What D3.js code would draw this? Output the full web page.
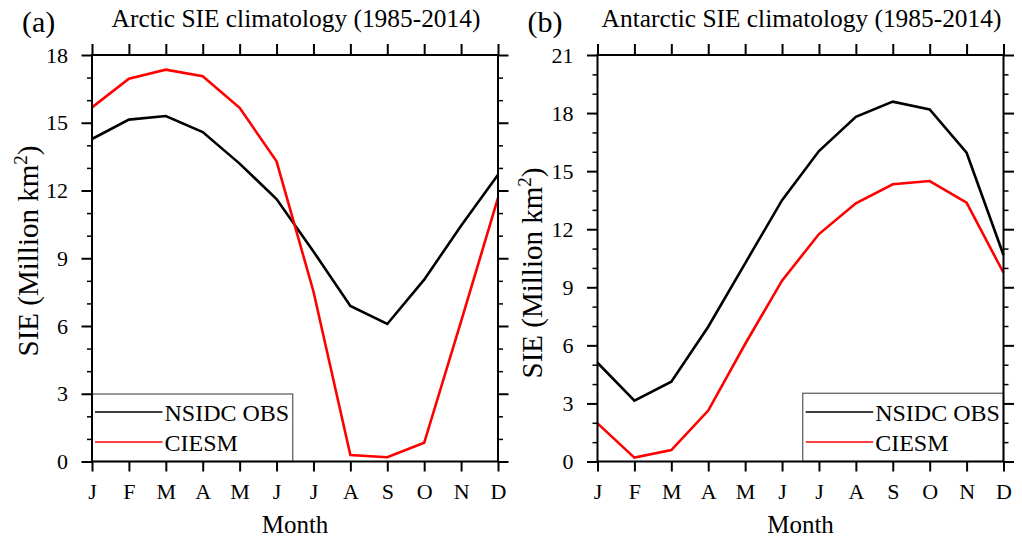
<!DOCTYPE html>
<html>
<head>
<meta charset="utf-8">
<script src="https://cdn.jsdelivr.net/npm/d3@7"></script>
<style>
  html, body { margin: 0; padding: 0; background: #fff; }
  svg { display: block; }
  svg text { font-family: "Liberation Serif", "Times New Roman", serif; fill: #000; }
</style>
</head>
<body>
<svg id="chart" width="1022" height="539"></svg>
<script>
// Monthly sea-ice extent climatology, 1985-2014 (million km^2)
const months = ["J", "F", "M", "A", "M", "J", "J", "A", "S", "O", "N", "D"];

const arcticObs   = [14.28, 15.14, 15.30, 14.59, 13.19, 11.62, 9.30, 6.89, 6.09, 8.05, 10.44, 12.70];
const arcticCiesm = [15.68, 16.95, 17.35, 17.06, 15.66, 13.29, 7.53, 0.29, 0.19, 0.83, 6.20, 11.67];

const antarcticObs   = [5.10, 3.14, 4.12, 6.96, 10.24, 13.50, 16.04, 17.81, 18.59, 18.19, 15.95, 10.67];
const antarcticCiesm = [1.97, 0.20, 0.59, 2.63, 6.07, 9.34, 11.75, 13.34, 14.32, 14.49, 13.37, 9.75];

const arcticTicks    = [0, 3, 6, 9, 12, 15, 18];
const antarcticTicks = [0, 3, 6, 9, 12, 15, 18, 21];

const seriesNames  = ["NSIDC OBS", "CIESM"];
const seriesColors = ["#000000", "#ff0000"];

const serif = "Liberation Serif, Times New Roman, serif";
const svg = d3.select("#chart");

const panels = [
  {
    tag: "(a)", title: "Arctic SIE climatology (1985-2014)",
    left: 92, right: 498, top: 55, bottom: 461.5,
    ymax: 18, ticks: arcticTicks, series: [arcticObs, arcticCiesm],
    ytitleX: 37.5, ytitleY: 251,
    legend: { x: 92, y: 394, w: 200.7 }
  },
  {
    tag: "(b)", title: "Antarctic SIE climatology (1985-2014)",
    left: 597.5, right: 1003.5, top: 55, bottom: 461.5,
    ymax: 21, ticks: antarcticTicks, series: [antarcticObs, antarcticCiesm],
    ytitleX: 542, ytitleY: 273,
    legend: { x: 802.7, y: 393.3, w: 200.8 }
  }
];

panels.forEach(p => {
  const x = d3.scaleLinear().domain([0, months.length - 1]).range([p.left, p.right]);
  const y = d3.scaleLinear().domain([0, p.ymax]).range([p.bottom, p.top]);
  const idx = d3.range(months.length);
  const minor = d3.range(0, p.ymax + 1).filter(v => v % 3 !== 0);

  const g = svg.append("g").attr("font-family", serif);

  // data lines
  p.series.forEach((vals, i) => {
    g.append("path")
      .datum(vals)
      .attr("fill", "none")
      .attr("stroke", seriesColors[i])
      .attr("stroke-width", 2.6)
      .attr("stroke-linejoin", "miter")
      .attr("d", d3.line().x((d, j) => x(j)).y(d => y(d)));
  });

  // legend
  const L = p.legend;
  const lg = g.append("g");
  lg.append("rect")
    .attr("x", L.x).attr("y", L.y)
    .attr("width", L.w).attr("height", p.bottom - L.y)
    .attr("fill", "#fff").attr("stroke", "#6e6e6e").attr("stroke-width", 1.4);
  const rowY = [412, 442];
  const textY = [420.7, 451];
  seriesNames.forEach((name, i) => {
    lg.append("line")
      .attr("x1", L.x + 3).attr("x2", L.x + 70.5)
      .attr("y1", rowY[i]).attr("y2", rowY[i])
      .attr("stroke", seriesColors[i]).attr("stroke-width", 1.3);
    lg.append("text")
      .attr("x", L.x + 72.5).attr("y", textY[i])
      .attr("font-family", serif).attr("font-size", 24)
      .text(name);
  });

  // frame
  g.append("rect")
    .attr("x", p.left).attr("y", p.top)
    .attr("width", p.right - p.left).attr("height", p.bottom - p.top)
    .attr("fill", "none").attr("stroke", "#000").attr("stroke-width", 2);

  const styleAxis = sel => {
    sel.attr("font-family", serif);
    sel.select(".domain").remove();
    sel.selectAll(".tick line").attr("stroke", "#000").attr("stroke-width", 2);
  };

  // left axis: major ticks with labels, minor ticks
  g.append("g").attr("transform", `translate(${p.left},0)`)
    .call(d3.axisLeft(y).tickValues(p.ticks).tickSize(10.5).tickPadding(13.5).tickFormat(d3.format("d")))
    .call(styleAxis)
    .call(a => a.selectAll("text").attr("font-size", 22).attr("fill", "#000"));
  g.append("g").attr("transform", `translate(${p.left},0)`)
    .call(d3.axisLeft(y).tickValues(minor).tickSize(5).tickFormat(""))
    .call(styleAxis)
    .call(a => a.selectAll(".tick line").attr("stroke-width", 1.5));

  // right axis
  g.append("g").attr("transform", `translate(${p.right},0)`)
    .call(d3.axisRight(y).tickValues(p.ticks).tickSize(10.5).tickFormat(""))
    .call(styleAxis);
  g.append("g").attr("transform", `translate(${p.right},0)`)
    .call(d3.axisRight(y).tickValues(minor).tickSize(5).tickFormat(""))
    .call(styleAxis)
    .call(a => a.selectAll(".tick line").attr("stroke-width", 1.5));

  // top axis
  g.append("g").attr("transform", `translate(0,${p.top})`)
    .call(d3.axisTop(x).tickValues(idx).tickSize(11).tickFormat(""))
    .call(styleAxis);

  // bottom axis with month letters
  g.append("g").attr("transform", `translate(0,${p.bottom})`)
    .call(d3.axisBottom(x).tickValues(idx).tickSize(10).tickFormat(i => months[i]))
    .call(styleAxis)
    .call(a => a.selectAll("text")
      .attr("y", 37.5).attr("dy", null)
      .attr("font-size", 22).attr("fill", "#000"));

  // x title
  g.append("text")
    .attr("x", (p.left + p.right) / 2).attr("y", 532.7)
    .attr("text-anchor", "middle").attr("font-size", 25)
    .text("Month");

  // y title
  const yt = g.append("text")
    .attr("transform", `translate(${p.ytitleX},${p.ytitleY}) rotate(-90)`)
    .attr("text-anchor", "middle").attr("font-size", 29);
  yt.append("tspan").text("SIE (Million km");
  yt.append("tspan").attr("font-size", 19).attr("dy", -11).text("2");
  yt.append("tspan").attr("dy", 11).text(")");

  // panel title and tag
  g.append("text")
    .attr("x", (p.left + p.right) / 2 + 1).attr("y", 26.5)
    .attr("text-anchor", "middle").attr("font-size", 25.4)
    .text(p.title);
  g.append("text")
    .attr("x", p.left - 70).attr("y", 31.5)
    .attr("font-size", 30)
    .text(p.tag);
});
</script>
</body>
</html>
